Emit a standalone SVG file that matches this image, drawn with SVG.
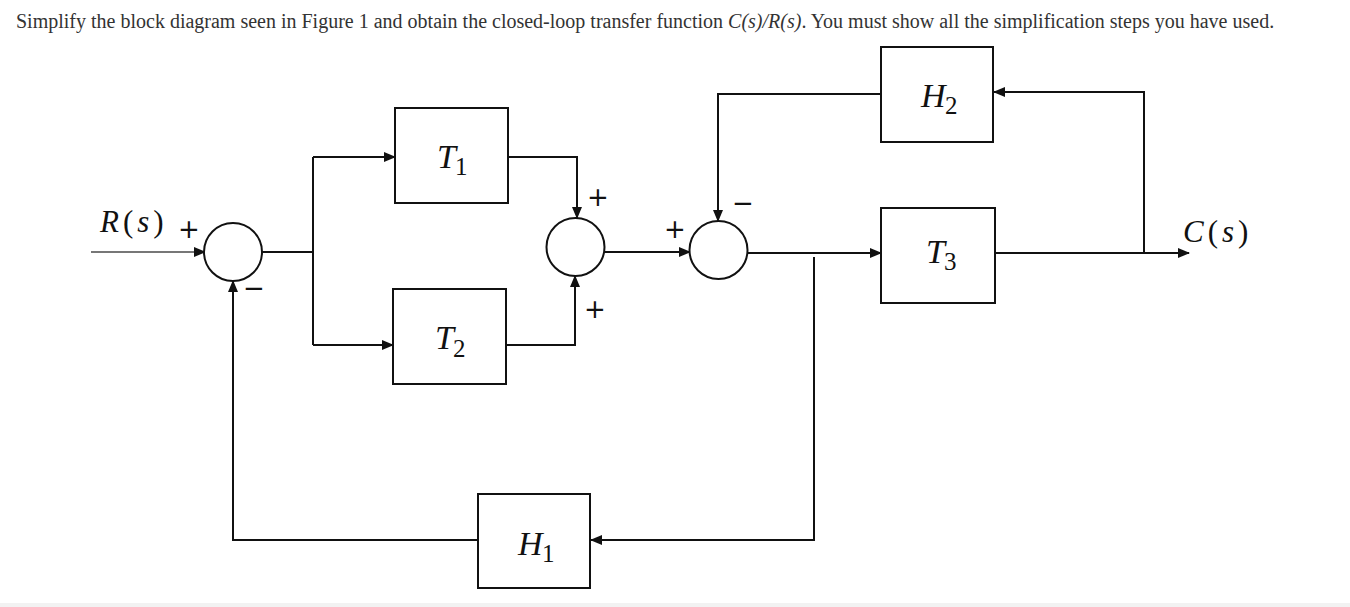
<svg xmlns="http://www.w3.org/2000/svg" width="1350" height="607" viewBox="0 0 1350 607">
<style>
.title{font-family:"Liberation Serif",serif;font-size:20px;fill:#333}
.blk{fill:#fff;stroke:#111;stroke-width:2}
.sum{fill:#fff;stroke:#111;stroke-width:2}
.lbl{font-family:"Liberation Serif","DejaVu Serif",serif;font-style:italic;font-size:34px;fill:#111}
.sub{font-family:"Liberation Serif","DejaVu Serif",serif;font-style:normal;font-size:25px;fill:#111}
.sig{font-family:"Liberation Serif","DejaVu Serif",serif;font-size:31px;fill:#111;letter-spacing:4px}
.sign{font-family:"DejaVu Sans",sans-serif;font-size:26px;fill:#111}
.wire{fill:none;stroke:#111;stroke-width:2}
</style>
<defs>
<marker id="ah" markerUnits="userSpaceOnUse" markerWidth="12" markerHeight="10" refX="11" refY="5" orient="auto">
<path d="M0,0 L12,5 L0,10 z" fill="#111"/>
</marker>
</defs>
<rect width="1350" height="607" fill="#fff"/>
<rect x="0" y="603" width="1350" height="4" fill="#f2f2f2"/>
<text class="title" x="16" y="28">Simplify the block diagram seen in Figure 1 and obtain the closed-loop transfer function <tspan font-style="italic">C(s)/R(s)</tspan>. You must show all the simplification steps you have used.</text>

<g id="connectors">
<path class="wire" d="M91,252 H205" style="stroke:#777" marker-end="url(#ah)"/>
<path class="wire" d="M262,252 H313 M313,157 V345"/>
<path class="wire" d="M313,157 H395" marker-end="url(#ah)"/>
<path class="wire" d="M313,345 H393" marker-end="url(#ah)"/>
<path class="wire" d="M508,157 H577 V218" marker-end="url(#ah)"/>
<path class="wire" d="M506,345 H575 V276" marker-end="url(#ah)"/>
<path class="wire" d="M604,252 H690" marker-end="url(#ah)"/>
<path class="wire" d="M747,253 H881" marker-end="url(#ah)"/>
<path class="wire" d="M995,253 H1189" marker-end="url(#ah)"/>
<path class="wire" d="M1144,253 V92 H994" marker-end="url(#ah)"/>
<path class="wire" d="M881,94 H718 V221" marker-end="url(#ah)"/>
<path class="wire" d="M814,257 V540 H591" marker-end="url(#ah)"/>
<path class="wire" d="M478,540 H233 V281" marker-end="url(#ah)"/>
</g>

<g id="R">
<text class="sig" x="100" y="232"><tspan font-style="italic">R</tspan>(<tspan font-style="italic">s</tspan>)</text>
</g>
<g id="sum1">
<circle class="sum" cx="233" cy="252" r="29"/>
<text class="sign" x="178" y="238">+</text>
<text class="sign" x="243" y="297">−</text>
</g>
<g id="T1">
<rect class="blk" x="395" y="108" width="113" height="95"/>
<text class="lbl" x="437" y="168">T</text><text class="sub" x="455" y="175">1</text>
</g>
<g id="T2">
<rect class="blk" x="393" y="289" width="113" height="95"/>
<text class="lbl" x="435" y="349">T</text><text class="sub" x="453" y="357">2</text>
</g>
<g id="sum2">
<circle class="sum" cx="575.5" cy="247" r="29"/>
<text class="sign" x="587" y="206">+</text>
<text class="sign" x="584" y="318">+</text>
</g>
<g id="sum3">
<circle class="sum" cx="718.5" cy="250" r="29"/>
<text class="sign" x="664" y="238">+</text>
<text class="sign" x="732" y="212">−</text>
</g>
<g id="H2">
<rect class="blk" x="881" y="47" width="112" height="95"/>
<text class="lbl" x="921" y="107">H</text><text class="sub" x="945" y="114">2</text>
</g>
<g id="T3">
<rect class="blk" x="881" y="208" width="114" height="95"/>
<text class="lbl" x="926" y="263">T</text><text class="sub" x="944" y="270">3</text>
</g>
<g id="H1">
<rect class="blk" x="478" y="494" width="112" height="94"/>
<text class="lbl" x="518" y="555">H</text><text class="sub" x="542" y="562">1</text>
</g>
<g id="C">
<text class="sig" x="1183" y="242"><tspan font-style="italic">C</tspan>(<tspan font-style="italic">s</tspan>)</text>
</g>
</svg>
